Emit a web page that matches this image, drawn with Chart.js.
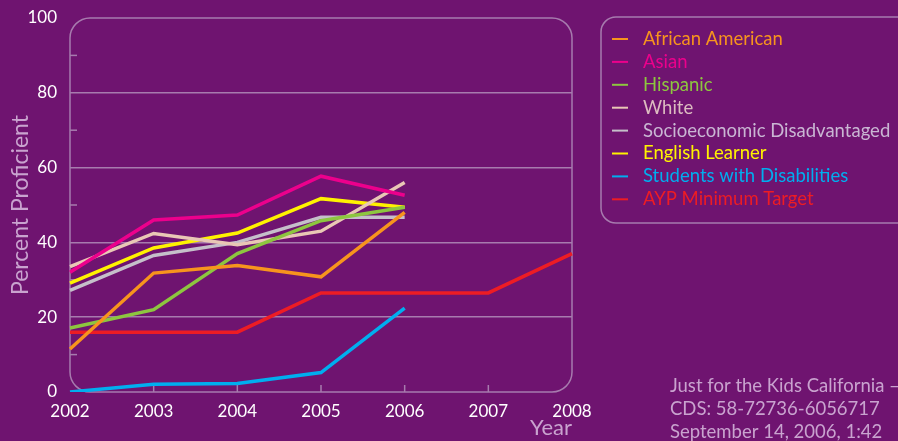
<!DOCTYPE html>
<html>
<head>
<meta charset="utf-8">
<script src="https://cdn.jsdelivr.net/npm/chart.js@4/dist/chart.umd.min.js"></script>
<style>
  html, body { margin: 0; padding: 0; background: #6f1470; }
  #wrap { width: 898px; height: 441px; }
</style>
</head>
<body>
<div id="wrap"><canvas id="chart" width="898" height="441"></canvas></div>
<script>
// valores (Percent Proficient)
const years = ['2002', '2003', '2004', '2005', '2006', '2007', '2008'];
const africanAmerican = [11.5, 31.8, 33.8, 30.8, 48];
const asian = [32, 46, 47.3, 57.7, 52.6];
const hispanic = [17.1, 22, 37, 45.8, 49.4];
const white = [33.5, 42.4, 39.4, 43, 56];
const socioDisadv = [27.2, 36.5, 40, 46.7, 46.7];
const englishLearner = [29.1, 38.5, 42.5, 51.7, 49.4];
const disabilities = [0, 2.1, 2.3, 5.2, 22.4];
const aypTarget = [16, 16, 16, 26.5, 26.5, 26.5, 37];
const yTicks = [0, 20, 40, 60, 80, 100];

const frameColor = '#a77bae';
const FONT = 'Lato, "Noto Sans", sans-serif';

function serie(label, data, color, textColor) {
    return {
        label: label,
        data: data,
        borderColor: color,
        legendColor: textColor || color,
        borderWidth: 3.5,
        pointRadius: 0,
        tension: 0,
        fill: false,
        borderJoinStyle: 'miter',
        borderCapStyle: 'butt'
    };
}

// moldura arredondada, marcas menores, legenda e rodapé
const decorPlugin = {
    id: 'decor',
    beforeDatasetsDraw(chart) {
        const ctx = chart.ctx;
        const a = chart.chartArea;
        const xs = chart.scales.x, ys = chart.scales.y;
        ctx.save();
        ctx.strokeStyle = frameColor;
        ctx.lineWidth = 1.5;
        ctx.beginPath();
        ctx.roundRect(a.left, a.top, a.right - a.left, a.bottom - a.top, 20);
        ctx.stroke();
        // marcas menores no eixo y
        [10, 30, 50, 70, 90].forEach(v => {
            const y = ys.getPixelForValue(v);
            ctx.beginPath();
            ctx.moveTo(a.left, y);
            ctx.lineTo(a.left + 7, y);
            ctx.stroke();
        });
        // marcas no eixo x
        for (let i = 1; i < years.length - 1; i++) {
            const x = xs.getPixelForValue(i);
            ctx.beginPath();
            ctx.moveTo(x, a.bottom);
            ctx.lineTo(x, a.bottom - 7);
            ctx.stroke();
        }
        ctx.restore();
    },
    afterDraw(chart) {
        const ctx = chart.ctx;
        ctx.save();
        // caixa da legenda
        ctx.strokeStyle = frameColor;
        ctx.lineWidth = 1.5;
        ctx.beginPath();
        ctx.roundRect(601, 17, 320, 206, 15);
        ctx.stroke();
        ctx.font = '18.5px ' + FONT;
        ctx.textBaseline = 'middle';
        chart.data.datasets.forEach((ds, i) => {
            const y = 39 + i * 22.9;
            ctx.strokeStyle = ds.borderColor;
            ctx.lineWidth = 2;
            ctx.beginPath();
            ctx.moveTo(612, y);
            ctx.lineTo(628, y);
            ctx.stroke();
            ctx.fillStyle = ds.legendColor;
            ctx.fillText(ds.label, 643, y);
        });
        // rodapé
        ctx.fillStyle = '#c9a3cf';
        ctx.font = '18.5px ' + FONT;
        ctx.fillText('Just for the Kids California –', 670, 386);
        ctx.fillText('CDS: 58-72736-6056717', 670, 409);
        ctx.fillText('September 14, 2006, 1:42', 670, 432);
        ctx.restore();
    }
};

function generateChart() {
    const ctx = document.getElementById('chart').getContext('2d');
    new Chart(ctx, {
        type: 'line',
        data: {
            labels: years,
            datasets: [
                serie('African American', africanAmerican, '#f7941d'),
                serie('Asian', asian, '#ec008c'),
                serie('Hispanic', hispanic, '#8dc63f'),
                serie('White', white, '#e9c7b5', '#dcbcc0'),
                serie('Socioeconomic Disadvantaged', socioDisadv, '#c5bfca', '#c9b6d3'),
                serie('English Learner', englishLearner, '#fff200'),
                serie('Students with Disabilities', disabilities, '#00aeef'),
                serie('AYP Minimum Target', aypTarget, '#ed1c24')
            ]
        },
        options: {
            responsive: false,
            animation: false,
            layout: { padding: { top: 18, right: 326, left: 0, bottom: 0 } },
            plugins: {
                legend: { display: false },
                tooltip: { enabled: false }
            },
            scales: {
                x: {
                    type: 'category',
                    offset: false,
                    grid: { display: false, drawTicks: false },
                    border: { display: false },
                    ticks: { color: '#ffffff', font: { family: FONT, size: 17 }, padding: 9, maxRotation: 0, autoSkip: false },
                    title: { display: true, text: 'Year', align: 'end', color: '#c9a3cf', font: { family: FONT, size: 22 }, padding: 0 },
                    afterFit: s => { s.height = 49; }
                },
                y: {
                    min: 0,
                    max: 100,
                    afterBuildTicks: s => { s.ticks = yTicks.map(v => ({ value: v })); },
                    grid: {
                        drawTicks: false,
                        lineWidth: 1.5,
                        color: c => (c.tick && c.tick.value > 0 && c.tick.value < 100) ? frameColor : 'rgba(0,0,0,0)'
                    },
                    border: { display: false },
                    ticks: { color: '#ffffff', font: { family: FONT, size: 17 }, padding: 13 },
                    title: { display: true, text: 'Percent Proficient', color: '#c9a3cf', font: { family: FONT, size: 23 }, padding: { top: 7, bottom: 0 } },
                    afterFit: s => { s.width = 70; s.paddingTop = 0; s.paddingBottom = 0; }
                }
            }
        },
        plugins: [decorPlugin]
    });
}

document.addEventListener('DOMContentLoaded', generateChart);
</script>
</body>
</html>
